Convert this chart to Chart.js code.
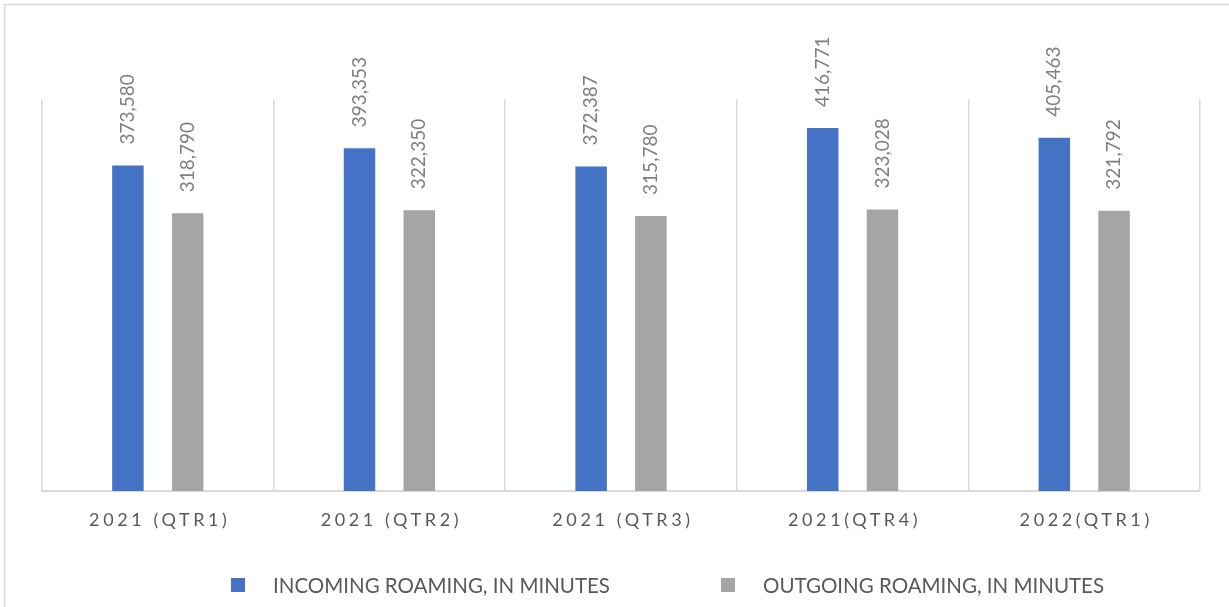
<!DOCTYPE html>
<html>
<head>
<meta charset="utf-8">
<script src="https://cdn.jsdelivr.net/npm/chart.js@4/dist/chart.umd.min.js"></script>
<style>
  html, body { margin: 0; padding: 0; background: #fff; }
  #wrap { position: relative; width: 1229px; height: 607px; }
</style>
</head>
<body>
<div id="wrap"><canvas id="roamingChart" width="1229" height="607"></canvas></div>
<script>
// Chart data
const quarters = ['2021 (QTR1)', '2021 (QTR2)', '2021 (QTR3)', '2021(QTR4)', '2022(QTR1)'];
const incomingMinutes = [373580, 393353, 372387, 416771, 405463];
const outgoingMinutes = [318790, 322350, 315780, 323028, 321792];
const seriesNames = ['INCOMING ROAMING, IN MINUTES', 'OUTGOING ROAMING, IN MINUTES'];

// Colors
const blueColor = '#4472c4';
const greyColor = '#a5a5a5';
const gridColor = '#d9d9d9';
const textColor = '#595959';
const labelColor = '#7f7f7f';
const fontFamily = 'Lato, "Open Sans", sans-serif';

// Outer frame of the chart
const framePlugin = {
    id: 'frame',
    beforeDraw(chart) {
        const ctx = chart.ctx;
        ctx.save();
        ctx.strokeStyle = gridColor;
        ctx.lineWidth = 1.5;
        ctx.strokeRect(4.5, 4.5, chart.width + 20, chart.height + 20);
        ctx.restore();
    }
};

// Rotated value labels above each bar
const valueLabels = {
    id: 'valueLabels',
    afterDatasetsDraw(chart) {
        const ctx = chart.ctx;
        ctx.save();
        ctx.font = '19px ' + fontFamily;
        ctx.fillStyle = labelColor;
        ctx.textAlign = 'left';
        ctx.textBaseline = 'middle';
        chart.data.datasets.forEach((ds, i) => {
            chart.getDatasetMeta(i).data.forEach((bar, j) => {
                ctx.save();
                ctx.translate(bar.x, bar.y - 21);
                ctx.rotate(-Math.PI / 2);
                ctx.fillText(ds.data[j].toLocaleString('en-US'), 0, 0);
                ctx.restore();
            });
        });
        ctx.restore();
    }
};

// Category labels with letter spacing, and the legend
const axisText = {
    id: 'axisText',
    afterDraw(chart) {
        const ctx = chart.ctx;
        const xScale = chart.scales.x;
        ctx.save();
        ctx.fillStyle = textColor;
        ctx.font = '18px ' + fontFamily;
        ctx.letterSpacing = '3.6px';
        ctx.textAlign = 'center';
        ctx.textBaseline = 'middle';
        quarters.forEach((q, i) => {
            ctx.fillText(q, xScale.getPixelForValue(i) + 2, chart.chartArea.bottom + 29);
        });

        // legend
        ctx.letterSpacing = '0px';
        ctx.font = '20.5px ' + fontFamily;
        ctx.textAlign = 'left';
        const legendX = [231, 721];
        const legendY = 585;
        chart.data.datasets.forEach((ds, i) => {
            ctx.fillStyle = ds.backgroundColor;
            ctx.fillRect(legendX[i], legendY - 7, 14, 14);
            ctx.fillStyle = textColor;
            ctx.fillText(ds.label, legendX[i] + 42, legendY + 1);
        });
        ctx.restore();
    }
};

new Chart(document.getElementById('roamingChart'), {
    type: 'bar',
    data: {
        labels: quarters,
        datasets: [{
            label: seriesNames[0],
            data: incomingMinutes,
            backgroundColor: blueColor
        }, {
            label: seriesNames[1],
            data: outgoingMinutes,
            backgroundColor: greyColor
        }]
    },
    options: {
        responsive: false,
        animation: false,
        datasets: {
            bar: { categoryPercentage: 0.516, barPercentage: 0.527 }
        },
        layout: { padding: { left: 42, right: 29, top: 99, bottom: 116 } },
        plugins: {
            legend: { display: false },
            tooltip: { enabled: false }
        },
        scales: {
            x: {
                grid: { color: gridColor, lineWidth: 1.5, drawTicks: false, offset: true },
                border: { color: gridColor, width: 2 },
                ticks: { display: false }
            },
            y: {
                display: false,
                min: 0,
                max: 450000
            }
        }
    },
    plugins: [framePlugin, valueLabels, axisText]
});
</script>
</body>
</html>
